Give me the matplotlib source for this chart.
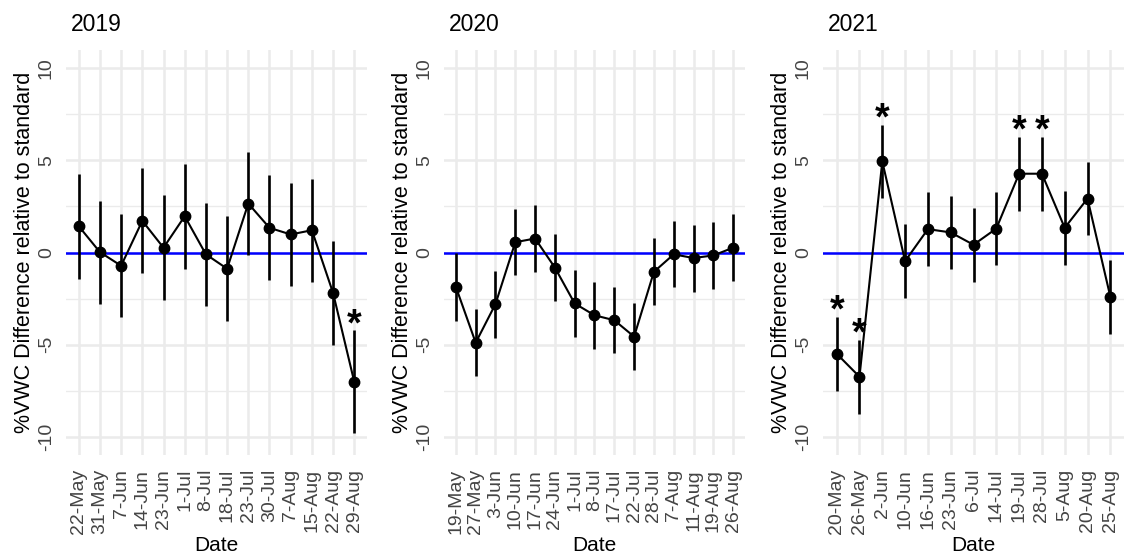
import numpy as np
import matplotlib
matplotlib.use("Agg")
from matplotlib import pyplot as plt

plt.rcParams['font.family'] = ['Liberation Sans', 'DejaVu Sans']

# 2019
dates_2019 = ['22-May', '31-May', '7-Jun', '14-Jun', '23-Jun', '1-Jul', '8-Jul',
              '18-Jul', '23-Jul', '30-Jul', '7-Aug', '15-Aug', '22-Aug', '29-Aug']
diff_2019 = [1.43, 0.02, -0.72, 1.72, 0.26, 1.97, -0.1, -0.88, 2.66, 1.34, 0.98, 1.21, -2.2, -7.03]
err_2019 = [2.85, 2.8, 2.8, 2.85, 2.85, 2.85, 2.8, 2.85, 2.8, 2.85, 2.8, 2.8, 2.85, 2.8]
sig_2019 = [False] * 13 + [True]

# 2020
dates_2020 = ['19-May', '27-May', '3-Jun', '10-Jun', '17-Jun', '24-Jun', '1-Jul', '8-Jul',
              '17-Jul', '22-Jul', '28-Jul', '7-Aug', '11-Aug', '19-Aug', '26-Aug']
diff_2020 = [-1.87, -4.9, -2.8, 0.56, 0.76, -0.82, -2.77, -3.41, -3.68, -4.57, -1.05,
             -0.1, -0.3, -0.16, 0.26]
err_2020 = [1.85, 1.82, 1.82, 1.8, 1.8, 1.82, 1.82, 1.82, 1.8, 1.8, 1.82, 1.8, 1.82, 1.82, 1.82]
sig_2020 = [False] * 15

# 2021
dates_2021 = ['20-May', '26-May', '2-Jun', '10-Jun', '16-Jun', '23-Jun', '6-Jul', '14-Jul',
              '19-Jul', '28-Jul', '5-Aug', '20-Aug', '25-Aug']
diff_2021 = [-5.5, -6.75, 4.95, -0.47, 1.27, 1.09, 0.42, 1.3, 4.28, 4.28, 1.34, 2.93, -2.4]
err_2021 = [2.0, 2.0, 2.0, 2.0, 2.0, 2.0, 2.0, 2.0, 2.0, 2.0, 2.0, 2.0, 2.0]
sig_2021 = [True, True, True, False, False, False, False, False, True, True, False, False, False]

panels = [
    ('2019', dates_2019, diff_2019, err_2019, sig_2019),
    ('2020', dates_2020, diff_2020, err_2020, sig_2020),
    ('2021', dates_2021, diff_2021, err_2021, sig_2021),
]

W, H = 1128, 555
fig = plt.figure(figsize=(W / 100, H / 100), dpi=100)
lefts = [66, 444, 823]
grid_col = '#EBEBEB'

for left, (year, dates, diff, err, sig) in zip(lefts, panels):
    ax = fig.add_axes([left / W, 100 / H, 301 / W, 405 / H])
    x = np.arange(1, len(dates) + 1)
    diff = np.array(diff)
    err = np.array(err)

    ax.set_xlim(0.4, len(dates) + 0.6)
    ax.set_ylim(-11, 11)
    ax.set_yticks([-10, -5, 0, 5, 10])
    ax.set_yticks([-7.5, -2.5, 2.5, 7.5], minor=True)
    ax.set_xticks(x)
    ax.set_xticklabels(dates, rotation=90, ha='center', va='top')
    ax.set_yticklabels(['-10', '-5', '0', '5', '10'], rotation=90, va='center')
    ax.tick_params(axis='both', which='both', length=0, labelsize=14, colors='#444444')
    ax.tick_params(axis='x', pad=10)
    ax.tick_params(axis='y', pad=8)
    for s in ax.spines.values():
        s.set_visible(False)
    ax.grid(True, which='major', color=grid_col, linewidth=1.8)
    ax.grid(True, which='minor', axis='y', color=grid_col, linewidth=1.0)
    ax.set_axisbelow(True)

    ax.axhline(0, color='#0000FF', linewidth=1.8, zorder=2)
    ax.vlines(x, diff - err, diff + err, color='black', linewidth=1.9, zorder=3)
    ax.plot(x, diff, color='black', linewidth=1.5, zorder=3)
    ax.plot(x, diff, 'o', color='black', markersize=7.5, zorder=4)
    for xi, d, e, s in zip(x, diff, err, sig):
        if s:
            ax.text(xi, d + e - 0.7, '*', ha='center', va='bottom', fontsize=27,
                    fontweight='bold', color='black', zorder=5)

    ax.set_title(year, loc='left', pad=14, fontsize=16.5, x=0.015)
    ax.set_ylabel('%VWC Difference relative to standard', fontsize=15.5)
    ax.yaxis.set_label_coords(-31 / 301, 0.5)
    ax.set_xlabel('Date', fontsize=15, va='top')
    ax.xaxis.set_label_coords(0.5, -(536 - 455) / 405)

fig.savefig('out.png', dpi=100)
